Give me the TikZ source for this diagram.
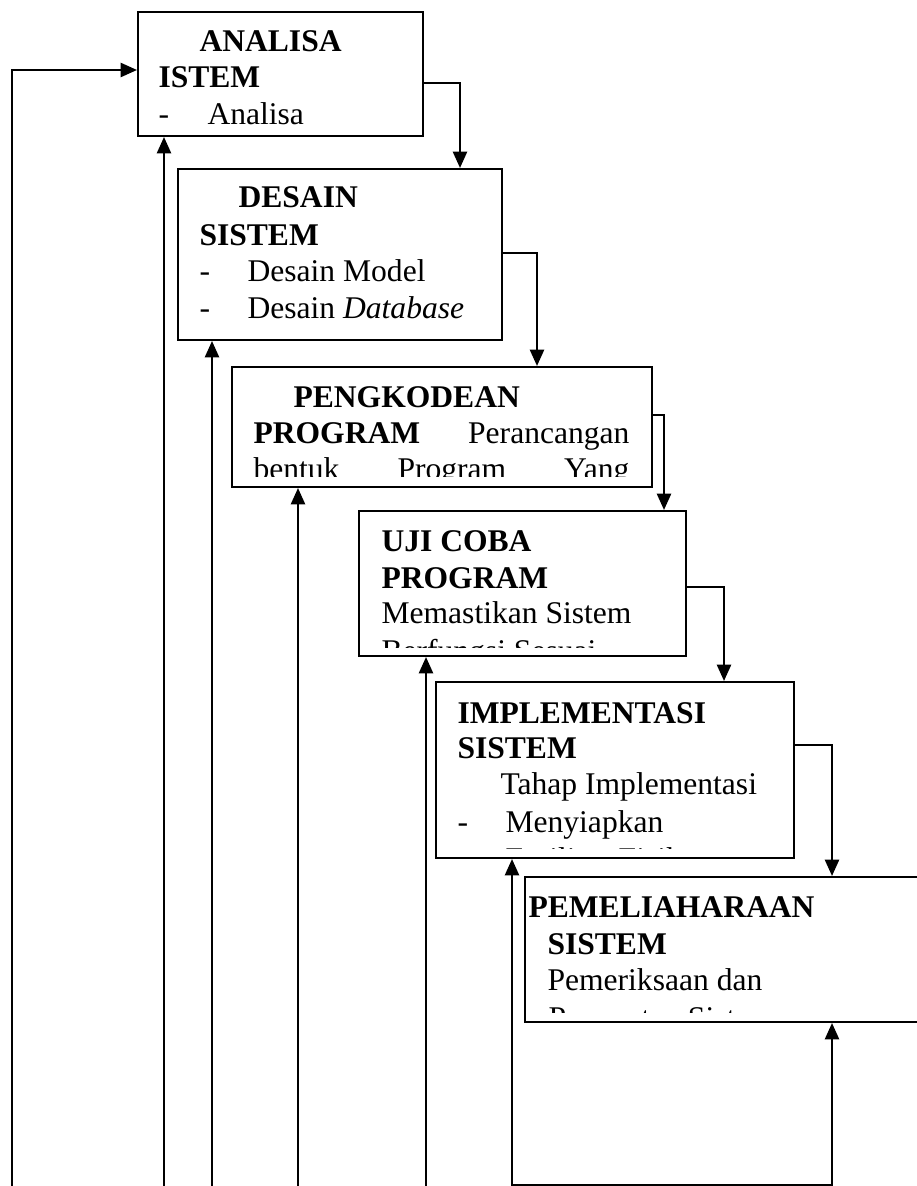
\documentclass[tikz,border=0pt]{standalone}
\usepackage{fontspec}
\setmainfont{Liberation Serif}
\usetikzlibrary{arrows.meta,fit}

\tikzset{
	tahap/.style={draw=black, line width=0.8pt, rectangle, inner sep=0pt},
	teks/.style={anchor=base west, inner sep=0pt, font=\fontsize{12}{14}\selectfont},
	tekskanan/.style={teks, anchor=base east},
	panah/.style={line width=0.7pt, -{Triangle[length=6.2pt,width=5.4pt]}},
	panahdua/.style={line width=0.7pt, {Triangle[length=6.2pt,width=5.4pt]}-{Triangle[length=6.2pt,width=5.4pt]}}
}

\begin{document}
\begin{tikzpicture}[x=0.38pt, y=-0.38pt]
		\useasboundingbox (0,0) rectangle (917,1186);
		
		\node [tahap, fit={(138,12) (423,136)}] (analisa) {};
		\node [tahap, fit={(178,169) (502,340)}] (desain) {};
		\node [tahap, fit={(232,367) (652,487)}] (pengkodean) {};
		\node [tahap, fit={(359,511) (686,656)}] (ujicoba) {};
		\node [tahap, fit={(436,682) (794,858)}] (implementasi) {};
		\node [tahap, fit={(525,877) (1000,1022)}] (pemeliharaan) {};
		
		% isi kotak
		\node [teks] (a1) at (199,52) {\textbf{ANALISA}};
		\node [teks] (a2) at (158,88) {\textbf{ISTEM}};
		\node [teks] (a3) at (158,125) {-};
		\node [teks] (a4) at (207,125) {Analisa};
		
		\node [teks] (d1) at (238,208) {\textbf{DESAIN}};
		\node [teks] (d2) at (199,245) {\textbf{SISTEM}};
		\node [teks] (d3) at (199,282) {-};
		\node [teks] (d4) at (247,282) {Desain Model};
		\node [teks] (d5) at (199,318) {-};
		\node [teks] (d6) at (247,318) {Desain \textit{Database}};
		
		\begin{scope}
			\clip (pengkodean.north west) rectangle (pengkodean.east |- 0,476);
			\node [teks] (p1) at (293,407) {\textbf{PENGKODEAN}};
			\node [teks] (p2) at (253,443) {\textbf{PROGRAM}};
			\node [tekskanan] (p3) at (630,443) {Perancangan};
			\node [teks] (p4) at (253,479) {bentuk};
			\node [teks] (p5) at (397,479) {Program};
			\node [tekskanan] (p6) at (630,479) {Yang};
		\end{scope}
		
		\begin{scope}
			\clip (ujicoba.north west) rectangle (ujicoba.east |- 0,647);
			\node [teks] (u1) at (381,551) {\textbf{UJI COBA}};
			\node [teks] (u2) at (381,588) {\textbf{PROGRAM}};
			\node [teks] (u3) at (381,623) {Memastikan Sistem};
			\node [teks] (u4) at (381,661) {Berfungsi Sesuai};
		\end{scope}
		
		\begin{scope}
			\clip (implementasi.north west) rectangle (implementasi.east |- 0,848);
			\node [teks] (i1) at (457,723) {\textbf{IMPLEMENTASI}};
			\node [teks] (i2) at (457,758) {\textbf{SISTEM}};
			\node [teks] (i3) at (500,794) {Tahap Implementasi};
			\node [teks] (i4) at (457,832) {-};
			\node [teks] (i5) at (505,832) {Menyiapkan};
			\node [teks] (i6) at (505,869) {Fasilitas Fisik};
		\end{scope}
		
		\begin{scope}
			\clip (pemeliharaan.north west) rectangle (pemeliharaan.east |- 0,1012);
			\node [teks] (m1) at (528,917) {\textbf{PEMELIAHARAAN}};
			\node [teks] (m2) at (547,954) {\textbf{SISTEM}};
			\node [teks] (m3) at (547,990) {Pemeriksaan dan};
			\node [teks] (m4) at (548,1028) {Perawatan Sistem};
		\end{scope}
		
		% alur turun
		\foreach \a/\b/\y/\x in {analisa/desain/83/460, desain/pengkodean/253/537, pengkodean/ujicoba/415/664, ujicoba/implementasi/587/724, implementasi/pemeliharaan/745/832}
			\draw [panah] (\a.east |- 0,\y) -| (\x,0 |- \b.north);
		
		% alur balik
		\coordinate (kiri) at (12,1200);
		\draw [panah] (kiri) |- (analisa.west |- 0,70);
		\foreach \b/\x in {analisa/164, desain/212, pengkodean/298, ujicoba/426}
		{
			\coordinate (bawah\b) at (\x,1200);
			\draw [panah] (bawah\b) -- (bawah\b |- \b.south);
		}
		\coordinate (dasar1) at (512,1185);
		\coordinate (dasar2) at (832,1185);
		\draw [panahdua] (implementasi.south -| dasar1) -- (dasar1) -- (dasar2) -- (pemeliharaan.south -| dasar2);
	\end{tikzpicture}
\end{document}
